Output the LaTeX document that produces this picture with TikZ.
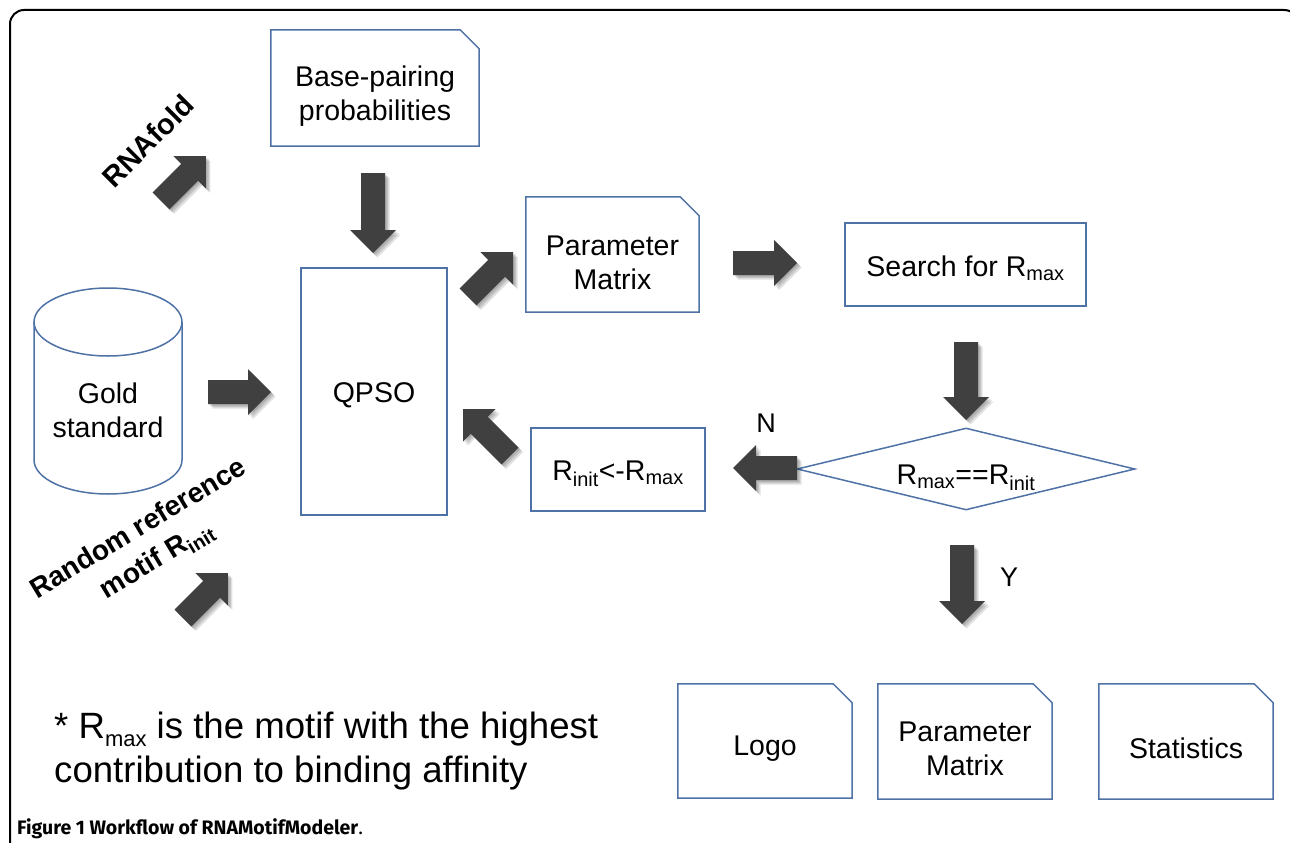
\documentclass[tikz,border=0pt]{standalone}
\usepackage{fontspec}
\setmainfont{Liberation Sans}
\newfontfamily\capfont{Fira Sans}
\usetikzlibrary{shapes.geometric,calc}
\definecolor{boxblue}{HTML}{4F72A6}
\definecolor{arrgray}{HTML}{404040}

\newcommand\docshape[1]{%
  \draw[boxblue, line width=1.5pt] (#1.south west) -- (#1.north west)
    -- ([xshift=-19pt]#1.north east) -- ([yshift=-19pt]#1.north east)
    -- (#1.south east) -- cycle;}

\newcommand\smsub[1]{\raisebox{-0.22em}{\scalebox{0.6}{#1}}}

\newcommand\blockarrow[2]{%
  \path (#1); \pgfgetlastxy{\bax}{\bay}%
  \path (#2); \pgfgetlastxy{\bbx}{\bby}%
  \pgfmathsetmacro\baang{atan2(\bby-\bay,\bbx-\bax)}%
  \pgfmathsetmacro\balen{veclen(\bbx-\bax,\bby-\bay)}%
  \pgfmathsetmacro\bahead{\balen-23}%
  \foreach \o in {1.5,3,4.5}{%
    \fill[black, opacity=0.12, shift={(\bax+\o pt,\bay-\o pt)}, rotate=\baang]
      (0pt,-12pt) -- (\bahead pt,-12pt) -- (\bahead pt,-23pt) -- (\balen pt,0pt)
      -- (\bahead pt,23pt) -- (\bahead pt,12pt) -- (0pt,12pt) -- cycle;}
  \fill[arrgray, shift={(\bax,\bay)}, rotate=\baang]
      (0pt,-12pt) -- (\bahead pt,-12pt) -- (\bahead pt,-23pt) -- (\balen pt,0pt)
      -- (\bahead pt,23pt) -- (\bahead pt,12pt) -- (0pt,12pt) -- cycle;}

\begin{document}
\begin{tikzpicture}[x=1pt,y=-1pt,
  lw/.style={line width=1.5pt},
  boxf/.style={font=\fontsize{28.5}{34}\selectfont},
  box/.style={draw=boxblue, lw, inner sep=0pt},
  docbox/.style={inner sep=0pt},
  txt/.style={boxf, align=center, inner sep=0pt},
  lbl/.style={font=\fontsize{27}{32}\selectfont, inner sep=0pt},
]
\useasboundingbox (0,0) rectangle (1290,843);
\fill[white] (0,0) rectangle (1290,843);

% frame
\draw[line width=2pt] (10,843) -- (10,24) arc[start angle=180, end angle=90, radius=14pt]
  -- (1284,10) arc[start angle=90, end angle=0, radius=16pt] -- (1300,843);

% shapes
\node[docbox, minimum width=208pt, minimum height=116pt] (bp) at (375,88) {};
\docshape{bp}
\node[docbox, minimum width=173pt, minimum height=115pt] (pm) at (612.5,254.5) {};
\docshape{pm}
\node[box, minimum width=146pt, minimum height=247pt] (qpso) at (374,391.5) {};
\node[box, minimum width=241pt, minimum height=83pt] (search) at (965.5,264.5) {};
\node[box, diamond, minimum width=338pt, minimum height=82pt] (dec) at (966,469) {};
\node[box, minimum width=174pt, minimum height=83pt] (rinit) at (618,469.5) {};
\node[docbox, minimum width=174pt, minimum height=114pt] (logo) at (765,741) {};
\docshape{logo}
\node[docbox, minimum width=174pt, minimum height=115pt] (pm2) at (965,741.5) {};
\docshape{pm2}
\node[docbox, minimum width=174pt, minimum height=115pt] (stats) at (1186,741.5) {};
\docshape{stats}

% cylinder
\node[inner sep=0pt, minimum width=148pt, minimum height=205pt] (gold) at (108,390.5) {};
\draw[boxblue, lw, fill=white] (34,322) -- (34,460)
  arc[start angle=180, end angle=360, x radius=74pt, y radius=34pt] -- (182,322);
\draw[boxblue, lw] (108,322) ellipse[x radius=74pt, y radius=34pt];

% texts in shapes
\node[txt] (bpt) at ([yshift=-8pt]bp.center) {Base-pairing\\probabilities};
\node[txt] (pmt) at ([yshift=-8pt]pm.center) {Parameter\\Matrix};
\node[txt] (qpsot) at ([yshift=-4pt]qpso.center) {QPSO};
\node[txt] (searcht) at ([yshift=-4pt]search.center) {Search for R\textsubscript{max}};
\node[txt] (dect) at ([yshift=-9pt]dec.center) {R\textsubscript{max}==R\textsubscript{init}};
\node[txt] (rinitt) at ([yshift=-4pt]rinit.center) {R\textsubscript{init}<-R\textsubscript{max}};
\node[txt] (logot) at ([yshift=-8pt]logo.center) {Logo};
\node[txt] (pm2t) at ([yshift=-7pt]pm2.center) {Parameter\\Matrix};
\node[txt] (statst) at ([yshift=-7pt]stats.center) {Statistics};
\node[txt] (goldt) at (108,410) {Gold\\standard};

% labels
\node[lbl] (nlab) at (766,423) {N};
\node[lbl] (ylab) at (1009,577) {Y};
\node[font=\bfseries\fontsize{29}{34}\selectfont, rotate=45, inner sep=0pt] (rnafold) at (148,141) {RNAfold};
\node[font=\bfseries\fontsize{28}{36}\selectfont, rotate=31, align=center, inner sep=0pt] (rand) at (148,545) {Random reference\\motif R\textsubscript{init}};

% block arrows
\coordinate (a1s) at (373,173);  \coordinate (a1e) at (373,253);
\coordinate (a2s) at (208,392);  \coordinate (a2e) at (271,392);
\coordinate (a3s) at (468,297);  \coordinate (a3e) at (513,252);
\coordinate (a4s) at (733,263);  \coordinate (a4e) at (797,263);
\coordinate (a5s) at (966,342);  \coordinate (a5e) at (966,420);
\coordinate (a6s) at (797,468);  \coordinate (a6e) at (733,468);
\coordinate (a7s) at (510,456);  \coordinate (a7e) at (463,409);
\coordinate (a8s) at (962,545);  \coordinate (a8e) at (962,624);
\coordinate (a9s) at (161,201);  \coordinate (a9e) at (206,156);
\coordinate (a10s) at (183,618); \coordinate (a10e) at (228,573);
\blockarrow{a1s}{a1e}
\blockarrow{a2s}{a2e}
\blockarrow{a3s}{a3e}
\blockarrow{a4s}{a4e}
\blockarrow{a5s}{a5e}
\blockarrow{a6s}{a6e}
\blockarrow{a7s}{a7e}
\blockarrow{a8s}{a8e}
\blockarrow{a9s}{a9e}
\blockarrow{a10s}{a10e}

% footnote and caption
\node[anchor=west, align=left, inner sep=0pt, font=\fontsize{36.6}{44}\selectfont] (note) at (54,751)
  {* R\smsub{max} is the motif with the highest\\contribution to binding affinity};
\node[anchor=west, inner sep=0pt, font=\capfont\fontsize{19.5}{22}\selectfont] (cap) at (17,829)
  {\textbf{Figure 1 Workflow of RNAMotifModeler}.};
\end{tikzpicture}
\end{document}
